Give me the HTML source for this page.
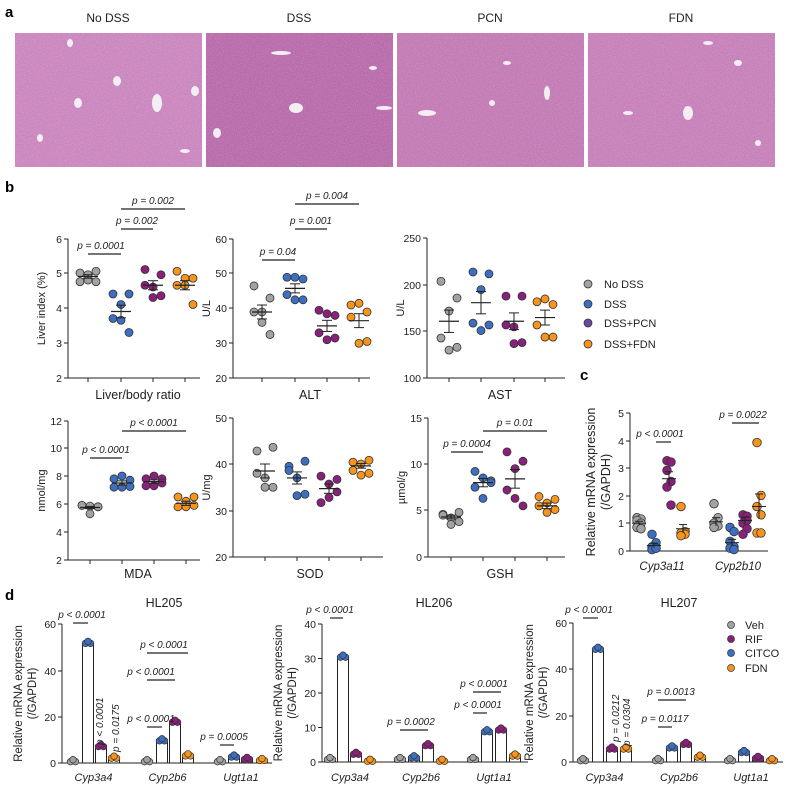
<!DOCTYPE html>
<html><head><meta charset="utf-8"><style>
body{margin:0;background:#fff;width:800px;height:787px;overflow:hidden}
svg{display:block;font-family:"Liberation Sans",Arial,sans-serif}
</style></head><body>
<svg id="s" width="800" height="787" xmlns="http://www.w3.org/2000/svg">
<defs>
<filter id="n" filterUnits="userSpaceOnUse" x="0" y="0" width="800" height="200"><feTurbulence type="fractalNoise" baseFrequency="0.9" numOctaves="2" seed="3"/><feColorMatrix values="0 0 0 0 1  0 0 0 0 1  0 0 0 0 1  0 0 0 0.9 -0.35"/><feComposite in2="SourceGraphic" operator="in"/></filter>
<filter id="m" filterUnits="userSpaceOnUse" x="0" y="0" width="800" height="200"><feTurbulence type="fractalNoise" baseFrequency="0.6" numOctaves="1" seed="7"/><feColorMatrix values="0 0 0 0 0.35  0 0 0 0 0.2  0 0 0 0 0.6  0 0 0 1.2 -0.55"/><feComposite in2="SourceGraphic" operator="in"/></filter>
</defs>
<text x="5" y="17" font-size="15" font-weight="bold">a</text>
<text x="108" y="22" font-size="12" text-anchor="middle" fill="#222">No DSS</text>
<text x="299" y="22" font-size="12" text-anchor="middle" fill="#222">DSS</text>
<text x="490" y="22" font-size="12" text-anchor="middle" fill="#222">PCN</text>
<text x="681" y="22" font-size="12" text-anchor="middle" fill="#222">FDN</text>
<g id="hist"></g>
<text x="5" y="192" font-size="15" font-weight="bold">b</text>
<text x="580" y="380" font-size="15" font-weight="bold">c</text>
<text x="5" y="600" font-size="15" font-weight="bold">d</text>
<g id="g" font-size="10.5" fill="#222"></g>
</svg>
<script>
var S=document.getElementById('g'),H=document.getElementById('hist');
function el(t,a,p,txt){if(typeof p==='string'){txt=p;p=undefined;}var e=document.createElementNS('http://www.w3.org/2000/svg',t);for(var k in a)e.setAttribute(k,a[k]);if(txt!==undefined)e.textContent=txt;(p||S).appendChild(e);return e;}
var cols=['#cc86bd','#b96aa9','#c47ab3','#c880b8'];
var ves=[[[55,40,3,4],[102,78,4,5],[142,100,5,9],[63,100,4,5],[188,88,4,5],[25,135,3,4],[170,148,5,2]],
[[75,50,10,2],[90,105,7,5],[11,130,4,5],[167,65,4,2],[178,105,8,2]],
[[30,110,9,3],[95,100,3,3],[150,90,3,7],[110,60,4,2]],
[[100,110,5,7],[150,60,4,3],[170,140,3,3],[40,110,5,2],[120,40,5,2]]];
for(var i=0;i<4;i++){var x0=15+i*191;
el('rect',{x:x0,y:33,width:187,height:134,fill:cols[i]},H);
el('rect',{x:x0,y:33,width:187,height:134,fill:'#000',filter:'url(#n)',opacity:0.45},H);
el('rect',{x:x0,y:33,width:187,height:134,fill:'#000',filter:'url(#m)',opacity:0.5},H);
ves[i].forEach(function(v){el('ellipse',{cx:x0+Math.min(v[0],180),cy:33+v[1]-30,rx:v[2],ry:v[3],fill:'#f3eef3'},H)});}
var C=['#a2a2a2','#3d6fc0','#8a1f7c','#f7941d'];
function axis(ax,y0,y1,ticks,ypos,xend,xt,ylab,title,ty){
 el('line',{x1:ax,y1:y0,x2:ax,y2:y1,stroke:'#222','stroke-width':1});
 el('line',{x1:ax,y1:y1,x2:xend,y2:y1,stroke:'#222','stroke-width':1});
 ticks.forEach(function(t,i){el('line',{x1:ax-4,y1:ypos[i],x2:ax,y2:ypos[i],stroke:'#222'});el('text',{x:ax-6,y:ypos[i]+4,'text-anchor':'end'},t);});
 (xt||[]).forEach(function(x){el('line',{x1:x,y1:y1,x2:x,y2:y1+4,stroke:'#222'});});
 if(ylab){var yc=(y0+y1)/2;el('text',{x:0,y:0,transform:'translate('+(ax-23)+','+yc+') rotate(-90)','text-anchor':'middle','font-size':11},ylab);}
 if(title)el('text',{x:title[1],y:ty,'text-anchor':'middle','font-size':12.5},title[0]);
}
function dots(x,vals,f,c,r,mean,sem,w){
 vals.forEach(function(v,i){var off=[-8,8,0,-8,0,8][i]||0;
 el('circle',{cx:x+off,cy:f(v),r:r,fill:c,stroke:'#333','stroke-width':0.8});});
 if(mean!==undefined){w=w||10;el('line',{x1:x-w,y1:f(mean),x2:x+w,y2:f(mean),stroke:'#222','stroke-width':1.2});
 el('line',{x1:x,y1:f(mean-sem),x2:x,y2:f(mean+sem),stroke:'#222'});
 el('line',{x1:x-5,y1:f(mean-sem),x2:x+5,y2:f(mean-sem),stroke:'#222'});el('line',{x1:x-5,y1:f(mean+sem),x2:x+5,y2:f(mean+sem),stroke:'#222'});}
}
function sig(x1,x2,y,txt,tx,fs){el('line',{x1:x1,y1:y,x2:x2,y2:y,stroke:'#222','stroke-width':1.2});el('text',{x:tx===undefined?(x1+x2)/2:tx,y:y-5,'text-anchor':'middle','font-style':'italic','font-size':fs||10},txt);}
function scat(ax,gx,f,data,ms){gx.forEach(function(x,i){dots(x,data[i],f,C[i],4,ms[i][0],ms[i][1]);});}
var f1=function(v){return 378-(v-2)*35};
axis(68,239,378,['6','5','4','3','2'],[239,273,308,343,378],200,[88,121,153,185],'Liver index (%)',['Liver/body ratio',138],399);
scat(68,[88,121,153,185],f1,[[5.0,5.05,4.95,4.75,4.8,4.75],[4.4,4.4,4.1,3.7,3.65,3.3],[5.1,4.95,4.6,4.65,4.3,4.35],[5.05,4.85,4.85,4.65,4.65,4.1]],[[4.9,.05],[3.9,.18],[4.65,.13],[4.65,.13]]);
sig(88,121,254,'p = 0.0001',101);sig(121,153,229,'p = 0.002',137);sig(121,185,209,'p = 0.002',153);
var f2=function(v){return 378-(v-20)*3.475};
axis(233,239,378,['60','50','40','30','20'],[239,273,308,343,378],370,[262,295,327,359],'U/L',['ALT',310],399);
scat(0,[262,295,327,359],f2,[[46.5,43,39,39,36,32.5],[49,48.5,49,44,42.5,42.5],[39.5,38,38.5,33,31,31.5],[41,39,41.5,37.5,30,30.5]],[[39,2],[45.8,1.3],[35,1.6],[36.5,2]]);
sig(262,295,260,'p = 0.04',278);sig(295,327,229,'p = 0.001',311);sig(295,359,204,'p = 0.004',327);
var f3=function(v){return 378-(v-100)*0.93};
axis(427,238,378,['250','200','150','100'],[238,285,331,378],565,[449,481,514,545],'U/L',['AST',500],399);
scat(0,[449,481,514,545],f3,[[204,186,172,143,130,133],[214,212,195,159,151,157],[188,188,155,157,137,138],[182,179,185,157,144,144]],[[161,12],[181,12],[161,9],[165,8]]);
['No DSS','DSS','DSS+PCN','DSS+FDN'].forEach(function(t,i){var y=[284,304,323,344][i];el('circle',{cx:588,cy:y,r:4,fill:i==2?'#6a4aa0':C[i],stroke:'#333','stroke-width':.8});el('text',{x:604,y:y+4,'font-size':11},t);});
var f4=function(v){return 560-(v-2)*14};
axis(68,421,560,['12','10','8','6','4','2'],[421,448,476,504,532,560],200,[90,122,154,186],'nmol/mg',['MDA',138],578);
scat(0,[90,122,154,186],f4,[[5.9,5.8,5.85,5.9,5.3,5.8],[7.8,7.7,8.0,7.2,7.2,7.25],[7.8,7.8,8.0,7.3,7.3,7.5],[6.5,6.5,6.2,5.8,5.8,5.9]],[[5.75,.08],[7.5,.15],[7.6,.12],[6.05,.15]]);
sig(90,122,458,'p < 0.0001',106);sig(122,186,431,'p < 0.0001',154);
var f5=function(v){return 557-(v-20)*4.65};
axis(233,418,557,['50','40','30','20'],[418,464,511,557],383,[265,297,329,361],'U/mg',['SOD',310],578);
scat(0,[265,297,329,361],f5,[[42.8,43.6,37,38,35,35],[39.5,40.6,37,38.6,33.2,33.5],[37.4,36.7,35.7,31.7,32.8,34],[40.4,40.8,40,38.6,37.6,38]],[[38.5,1.5],[37,1.3],[34.7,1],[39.6,.5]]);
var f6=function(v){return 557-v*9.3};
axis(428,418,557,['15','10','5','0'],[418,464,510,557],565,[451,483,515,547],'µmol/g',['GSH',500],578);
scat(0,[451,483,515,547],f6,[[4.6,4.8,4.2,4.5,3.5,3.8],[9.2,8.2,8.5,7.5,6.3,8.0],[11.3,10.3,9.5,7.2,6.3,5.5],[6.5,6.2,5.8,5.5,4.8,5.1]],[[4.3,.2],[8.0,.45],[8.4,1],[5.5,.3]]);
sig(451,483,452,'p = 0.0004',467);sig(483,547,431,'p = 0.01',515);
var f7=function(v){return 551-v*27.8};
axis(630,413,551,['5','4','3','2','1','0'],[413,441,468,496,523,551],768,[],null,null);
el('text',{transform:'translate(595,482) rotate(-90)','text-anchor':'middle','font-size':12.5},'Relative mRNA expression');
el('text',{transform:'translate(610,482) rotate(-90)','text-anchor':'middle','font-size':12.5},'(/GAPDH)');
el('text',{x:662,y:570,'text-anchor':'middle','font-style':'italic','font-size':11.5},'Cyp3a11');
el('text',{x:738,y:570,'text-anchor':'middle','font-style':'italic','font-size':11.5},'Cyp2b10');
function cd(x,vals,c,m,s){vals.forEach(function(v,i){el('circle',{cx:x+(i%2?2:-2),cy:f7(v),r:4.3,fill:c,stroke:'#333','stroke-width':.8});});
el('line',{x1:x-7,y1:f7(m),x2:x+7,y2:f7(m),stroke:'#222'});el('line',{x1:x,y1:f7(m-s),x2:x,y2:f7(m+s),stroke:'#222'});el('line',{x1:x-4,y1:f7(m+s),x2:x+4,y2:f7(m+s),stroke:'#222'});}
cd(639,[1.2,1.15,1.1,1.0,0.85,0.8],C[0],1.0,.07);cd(654,[0.6,0.3,0.15,0.1,0.05,0.1],C[1],0.2,.08);cd(669,[3.25,3.2,2.9,2.5,2.3,1.65],C[2],2.6,.25);cd(683,[1.6,0.7,0.65,0.6,0.55],C[3],0.8,.15);
cd(716,[1.7,1.2,1.0,0.9,0.85],C[0],1.05,.15);cd(732,[0.85,0.7,0.35,0.15,0.1,0.05],C[1],0.3,.12);cd(745,[1.3,1.25,1.0,0.8,0.6,1.1],C[2],1.1,.12);cd(759,[3.9,2.0,1.6,1.3,0.65,0.65],C[3],1.6,.45);
sig(656,671,442,'p < 0.0001',660);sig(732,759,423,'p = 0.0022',743);
function bars(ax,top,bot,ticks,tpos,xend,sc,groups,title,tx){
 axis(ax,top,bot,ticks,tpos,xend,[],null,null);
 el('text',{transform:'translate('+(ax-40)+','+((top+bot)/2)+') rotate(-90)','text-anchor':'middle','font-size':11.5},'Relative mRNA expression');
 el('text',{transform:'translate('+(ax-26)+','+((top+bot)/2)+') rotate(-90)','text-anchor':'middle','font-size':11.5},'(/GAPDH)');
 el('text',{x:tx,y:607,'text-anchor':'middle','font-size':12.5},title);
 groups.forEach(function(g){var names=g[0];g[1].forEach(function(v,i){var x=g[2][i],y=bot-v*sc;
  el('rect',{x:x-5.5,y:y,width:11,height:bot-y,fill:'#fff',stroke:'#222','stroke-width':1});
  [-2.5,2.5,0].forEach(function(o,j){el('circle',{cx:x+o,cy:y+(j==2?-1:1),r:3.3,fill:C[i],stroke:'#333','stroke-width':.7});});});
  el('text',{x:(g[2][0]+g[2][3])/2,y:781,'text-anchor':'middle','font-style':'italic','font-size':11},names);});
}
var s1=2.32;
bars(62,624,763,['60','40','20','0'],[624,671,717,763],272,s1,[['Cyp3a4',[1,52,7.5,2.5],[73,88,101,114]],['Cyp2b6',[1,10,18,3.5],[147,162,175,188]],['Ugt1a1',[1,3,2,1.5],[220,234,247,262]]],'HL205',164);
sig(73,88,623,'p < 0.0001',82);sig(147,162,727,'p < 0.0001',151);sig(147,175,680,'p < 0.0001',151);sig(147,188,653,'p < 0.0001',164);sig(220,234,745,'p = 0.0005',224);
el('text',{transform:'translate(103,745) rotate(-90)','font-style':'italic','font-size':10},'p < 0.0001');
el('text',{transform:'translate(119,752) rotate(-90)','font-style':'italic','font-size':10},'p = 0.0175');
bars(322,624,762,['40','30','20','10','0'],[624,658.5,693,727.5,762],528,3.47,[['Cyp3a4',[1,30.5,2.5,0.5],[330,343,356,370]],['Cyp2b6',[1,1.5,5,0.5],[400,414,428,442]],['Ugt1a1',[1,9,9.5,2],[473,487,501,515]]],'HL206',434);
sig(330,343,618,'p < 0.0001',330);sig(400,428,730,'p = 0.0002',411);sig(473,501,692,'p < 0.0001',484);sig(473,487,713,'p < 0.0001',478);
bars(573,623,762,['60','40','20','0'],[623,669,716,762],783,s1,[['Cyp3a4',[1,49,6,6],[583,598,612,626]],['Cyp2b6',[1,6.5,8,2.5],[658,672,686,700]],['Ugt1a1',[1,4.5,2,1],[730,744,758,772]]],'HL207',679);
sig(583,598,618,'p < 0.0001',589);sig(658,686,700,'p = 0.0013',671);sig(658,672,727,'p = 0.0117',665);
el('text',{transform:'translate(619,742) rotate(-90)','font-style':'italic','font-size':10},'p = 0.0212');
el('text',{transform:'translate(630,746) rotate(-90)','font-style':'italic','font-size':10},'p = 0.0304');
['Veh','RIF','CITCO','FDN'].forEach(function(t,i){var y=[625,639,653,668][i];el('circle',{cx:731,cy:y,r:3.5,fill:[C[0],C[2],C[1],C[3]][i],stroke:'#333','stroke-width':.7});el('text',{x:745,y:y+4,'font-size':11},t);});
</script>
</body></html>
